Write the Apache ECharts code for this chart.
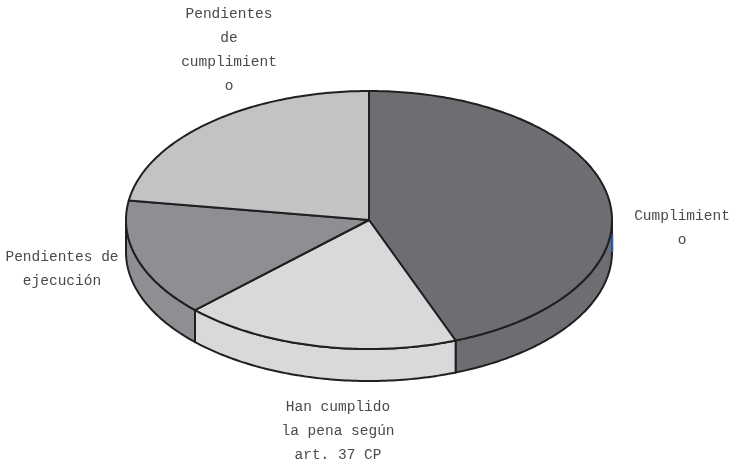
<!DOCTYPE html>
<html><head><meta charset="utf-8">
<style>html,body{margin:0;padding:0;background:#fff}#c{width:737px;height:465px}</style>
<script src="https://cdn.jsdelivr.net/npm/echarts@6/dist/echarts.min.js"></script>
</head><body><div id="c"></div>
<script>
var categories = ['Cumplimient\no', 'Han cumplido\nla pena según\nart. 37 CP', 'Pendientes de\nejecución', 'Pendientes\nde\ncumplimient\no'];
var values = [44.2, 18.5, 14.7, 22.6];
var topColors = ['#6d6e71', '#d8d9db', '#8e8f92', '#c2c3c5'];
var wallColors = ['#6d6e71', '#d8d9db', '#8e8f92', '#c2c3c5'];
var labelCenters = [[682, 204], [338, 395], [62, 245], [229, 2]];
var DEPTH = 32 / 129, INK = '#231f20', TEXT = '#4a4a4a';
var total = values.reduce(function (a, b) { return a + b; }, 0);
var starts = []; values.reduce(function (a, v, i) { starts[i] = a; return a + v; }, 0);
function ang(p) { return p / total * 2 * Math.PI; }
function pt(t, dy) { return [Math.sin(t), Math.cos(t) - (dy || 0)]; }
function arc(a, b, dy, api) {
  var n = Math.max(2, Math.ceil((b - a) / 0.015)), out = [];
  for (var i = 0; i <= n; i++) out.push(api.coord(pt(a + (b - a) * i / n, dy)));
  return out;
}
function renderWall(params, api) {
  var i = params.dataIndex, a = ang(starts[i]), b = a + ang(api.value(0));
  var lo = Math.max(a, Math.PI / 2), hi = Math.min(b, 3 * Math.PI / 2);
  if (hi <= lo) return { type: 'group', children: [] };
  var pts = arc(lo, hi, 0, api).concat(arc(lo, hi, DEPTH, api).reverse());
  return { type: 'polygon', shape: { points: pts },
    style: { fill: wallColors[i], stroke: INK, lineWidth: 2, lineJoin: 'round' } };
}
function renderTop(params, api) {
  var i = params.dataIndex, a = ang(starts[i]), b = a + ang(api.value(0));
  var pts = [api.coord([0, 0])].concat(arc(a, b, 0, api));
  var kids = [{ type: 'polygon', shape: { points: pts },
    style: { fill: topColors[i], stroke: INK, lineWidth: 2, lineJoin: 'round' } }];
  kids.push({ type: 'text', style: { text: categories[i], x: labelCenters[i][0], y: labelCenters[i][1],
    textAlign: 'center', textVerticalAlign: 'top', fill: TEXT, lineHeight: 24,
    font: '14.5px "Liberation Mono", monospace' } });
  return { type: 'group', children: kids };
}
function renderBlue(params, api) {
  var a = api.coord(pt(Math.PI / 2, 0.11)), b = api.coord(pt(Math.PI / 2, DEPTH));
  return { type: 'line', shape: { x1: a[0] + 0.3, y1: a[1], x2: b[0] + 0.3, y2: b[1] },
    style: { stroke: '#2f62b5', lineWidth: 2 } };
}
var data = values.map(function (v, i) { return [v, i]; });
var chart = echarts.init(document.getElementById('c'), null, { renderer: 'canvas' });
chart.setOption({
  animation: false,
  backgroundColor: '#fff',
  grid: { left: 126, width: 486, top: 91, height: 258 },
  xAxis: { type: 'value', min: -1, max: 1, show: false },
  yAxis: { type: 'value', min: -1, max: 1, show: false },
  series: [
    { type: 'custom', name: 'wall', z: 2, clip: false, data: data, renderItem: renderWall, encode: { x: -1, y: -1 }, silent: true },
    { type: 'custom', name: 'edge', z: 3, clip: false, data: [[0, 0]], renderItem: renderBlue, encode: { x: -1, y: -1 }, silent: true },
    { type: 'custom', name: 'top', z: 4, clip: false, data: data, renderItem: renderTop, encode: { x: -1, y: -1 }, silent: true }
  ]
});
</script></body></html>
